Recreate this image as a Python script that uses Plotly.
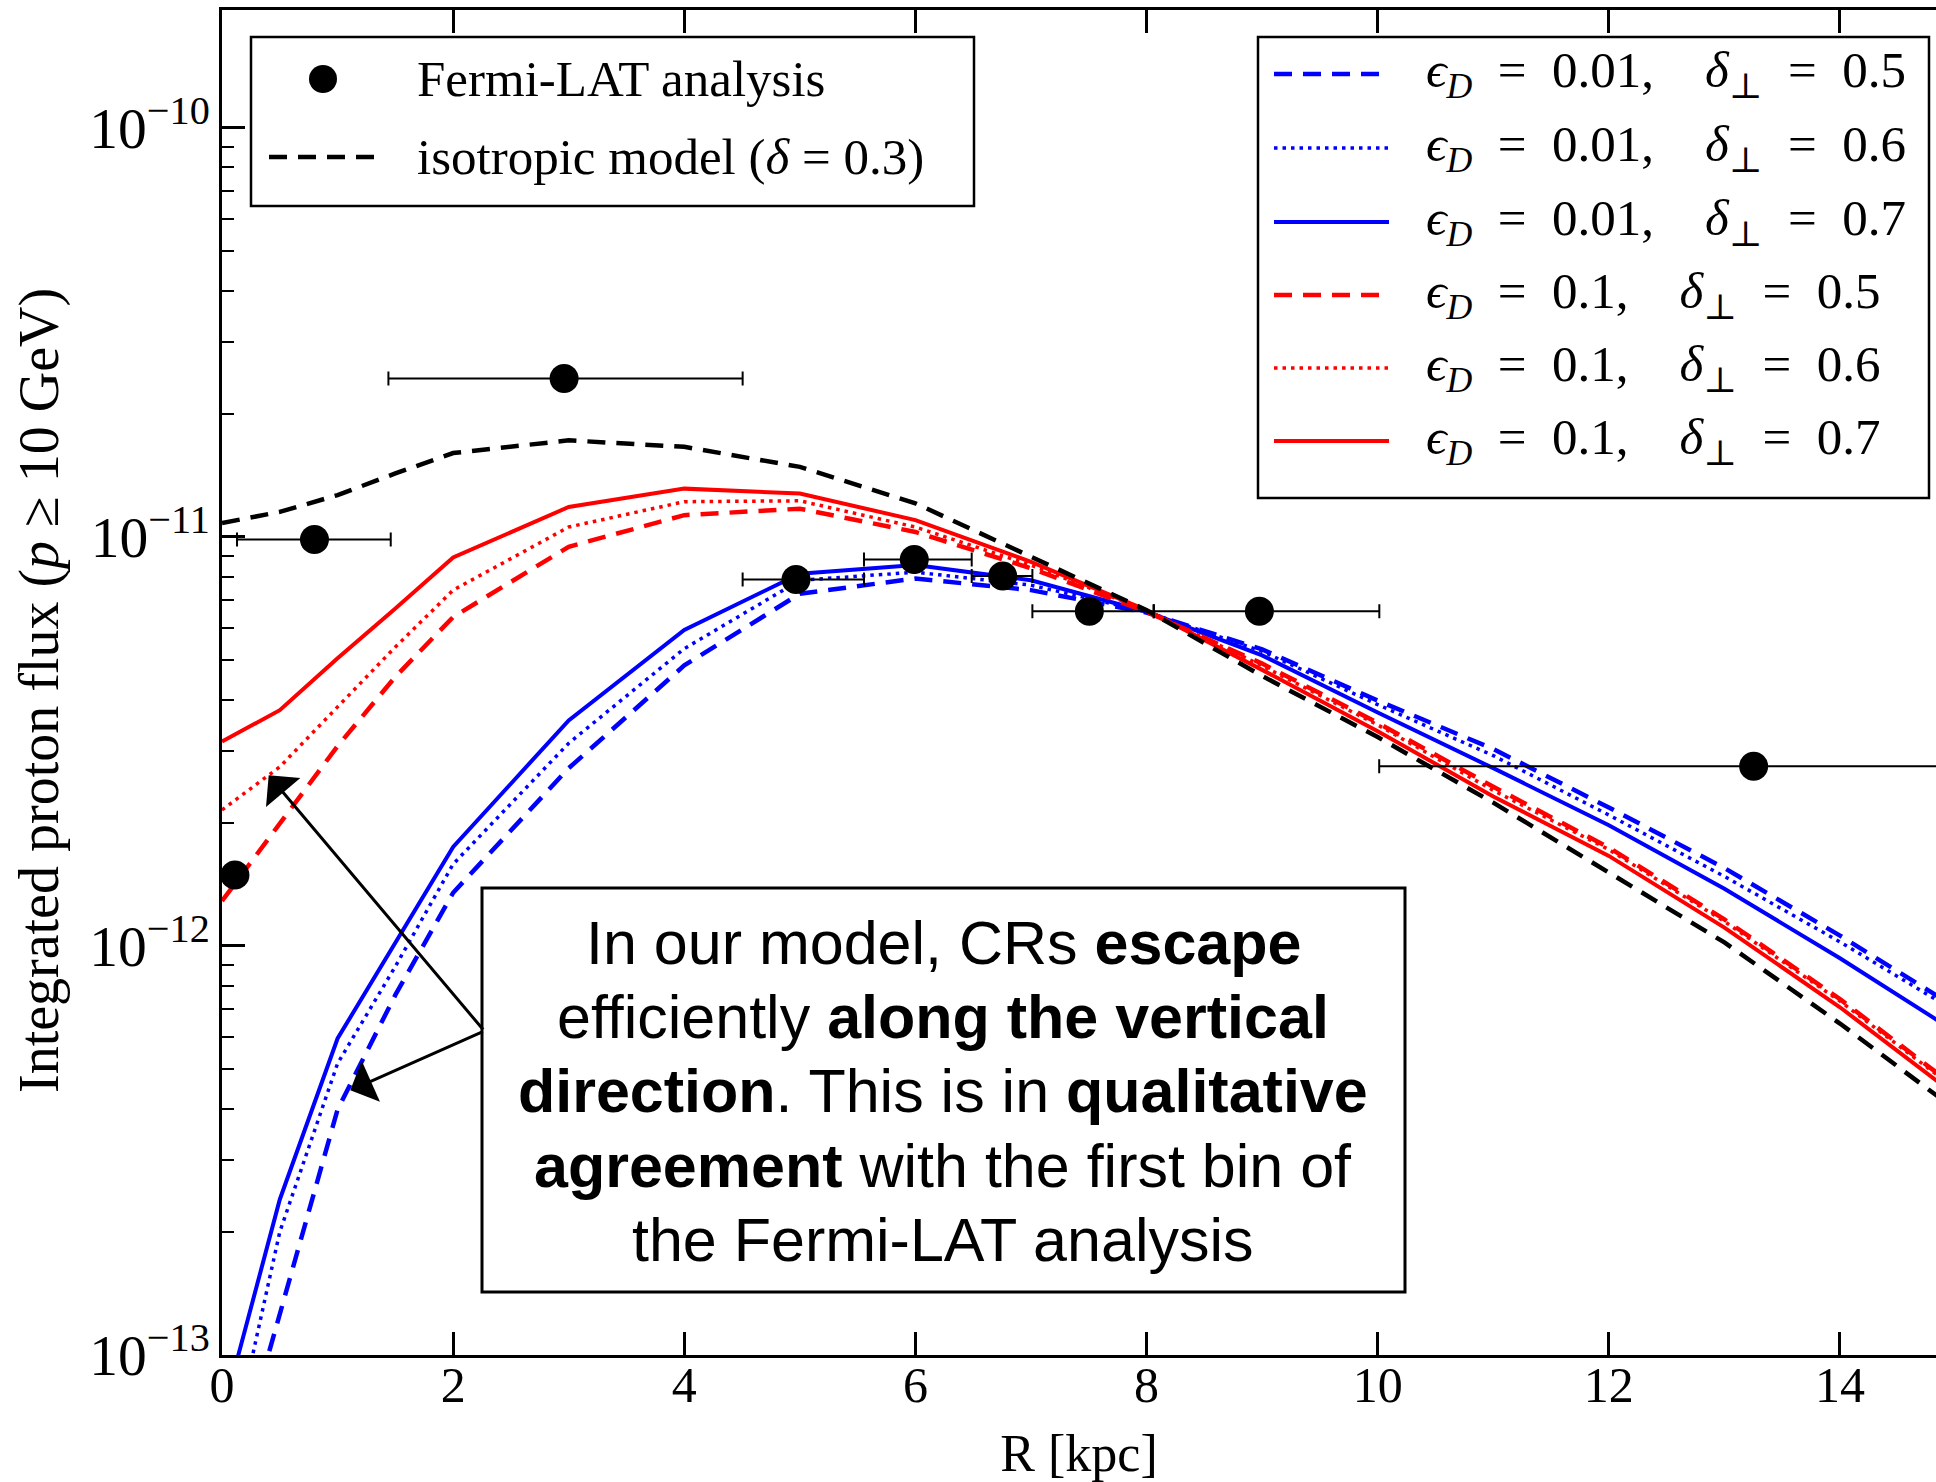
import plotly.graph_objects as go

# ---------------- data ----------------
R_grid = [0, 0.5, 1, 1.5, 2, 3, 4, 5, 6, 7, 8, 9, 10, 11, 12, 13, 14, 15]

iso_d03 = [1.081e-11, 1.151e-11, 1.265e-11, 1.429e-11, 1.603e-11, 1.722e-11, 1.660e-11, 1.483e-11,
           1.208e-11, 8.93e-12, 6.62e-12, 4.57e-12, 3.24e-12, 2.24e-12, 1.51e-12, 1.02e-12,
           6.46e-13, 3.98e-13]

e001_d05 = [3.98e-14, 1.265e-13, 3.98e-13, 7.59e-13, 1.349e-12, 2.72e-12, 4.85e-12, 7.26e-12,
            7.91e-12, 7.41e-12, 6.53e-12, 5.31e-12, 3.98e-12, 3.03e-12, 2.18e-12, 1.55e-12,
            1.06e-12, 7.08e-13]
e001_d06 = [4.57e-14, 2.00e-13, 5.16e-13, 8.91e-13, 1.585e-12, 3.13e-12, 5.33e-12, 7.83e-12,
            8.20e-12, 7.62e-12, 6.56e-12, 5.25e-12, 3.89e-12, 2.92e-12, 2.09e-12, 1.479e-12,
            1.023e-12, 6.92e-13]
e001_d07 = [7.08e-14, 2.40e-13, 5.94e-13, 1.023e-12, 1.746e-12, 3.56e-12, 5.92e-12, 8.13e-12,
            8.53e-12, 7.83e-12, 6.56e-12, 5.13e-12, 3.72e-12, 2.72e-12, 1.972e-12, 1.380e-12,
            9.33e-13, 6.17e-13]
e01_d05 = [1.288e-12, 1.995e-12, 3.08e-12, 4.55e-12, 6.37e-12, 9.46e-12, 1.130e-11, 1.172e-11,
           1.028e-11, 8.38e-12, 6.56e-12, 4.90e-12, 3.51e-12, 2.45e-12, 1.74e-12, 1.161e-12,
           7.41e-13, 4.52e-13]
e01_d06 = [2.15e-12, 2.74e-12, 3.84e-12, 5.38e-12, 7.41e-12, 1.057e-11, 1.219e-11, 1.225e-11,
           1.057e-11, 8.53e-12, 6.61e-12, 4.84e-12, 3.47e-12, 2.40e-12, 1.72e-12, 1.148e-12,
           7.33e-13, 4.47e-13]
e01_d07 = [3.16e-12, 3.77e-12, 5.05e-12, 6.68e-12, 8.91e-12, 1.183e-11, 1.312e-11, 1.276e-11,
           1.099e-11, 8.69e-12, 6.62e-12, 4.73e-12, 3.35e-12, 2.32e-12, 1.66e-12, 1.109e-12,
           7.08e-13, 4.32e-13]

fermi_R = [0.112, 0.80, 2.96, 4.967, 5.99, 6.755, 7.505, 8.976, 13.253]
fermi_flux = [1.49e-12, 9.86e-12, 2.44e-11, 7.87e-12, 8.81e-12, 8.02e-12, 6.58e-12, 6.58e-12, 2.75e-12]
fermi_err_minus = [0.0, 0.67, 1.52, 0.462, 0.435, 0.268, 0.493, 0.916, 3.24]
fermi_err_plus = [0.0, 0.66, 1.545, 0.588, 0.497, 0.257, 0.559, 1.038, 3.24]

x_ticks = [0, 2, 4, 6, 8, 10, 12, 14]

legend_left = ["Fermi-LAT analysis", "isotropic model (<i>δ</i> = 0.3)"]
legend_right = [
    ("0.01", "0.5"), ("0.01", "0.6"), ("0.01", "0.7"),
    ("0.1", "0.5"), ("0.1", "0.6"), ("0.1", "0.7"),
]

box_lines = [
    "In our model, CRs <b>escape</b>",
    "efficiently <b>along the vertical</b>",
    "<b>direction</b>. This is in <b>qualitative</b>",
    "<b>agreement</b> with the first bin of",
    "the Fermi-LAT analysis",
]

y_title = "Integrated proton flux (<i>p</i> ≥ 10 GeV)"
x_title = "R [kpc]"

# ---------------- styles ----------------
BLUE = "#0000ff"
RED = "#ff0000"
DASH = "18px,11px"
DOT = "3.5px,5px"
SERIF = "Liberation Serif, Times New Roman, DejaVu Serif, serif"
SANS = "Liberation Sans, Arial, Helvetica, sans-serif"

model_series = [
    (e001_d05, BLUE, DASH, 4.5),
    (e001_d06, BLUE, DOT, 3.5),
    (e001_d07, BLUE, "solid", 4.0),
    (e01_d05, RED, DASH, 4.5),
    (e01_d06, RED, DOT, 3.5),
    (e01_d07, RED, "solid", 4.0),
]

W, H = 1936, 1482
ML, MR, MT, MB = 222, 0, 10, 127
PW, PH = W - ML - MR, H - MT - MB


def px(x):
    return (x - ML) / PW


def py(y):
    return 1 - (y - MT) / PH


fig = go.Figure()

for ys, col, dash, w in model_series:
    fig.add_trace(go.Scatter(x=R_grid, y=ys, mode="lines",
                             line=dict(color=col, dash=dash, width=w),
                             showlegend=False, hoverinfo="skip"))

fig.add_trace(go.Scatter(x=R_grid, y=iso_d03, mode="lines",
                         line=dict(color="black", dash=DASH, width=4.5),
                         showlegend=False, hoverinfo="skip"))

fig.add_trace(go.Scatter(
    x=fermi_R, y=fermi_flux, mode="markers",
    marker=dict(color="black", size=29, symbol="circle"),
    error_x=dict(type="data", symmetric=False, array=fermi_err_plus,
                 arrayminus=fermi_err_minus, color="black", thickness=2, width=7),
    showlegend=False, hoverinfo="skip"))

shapes = []
annotations = []

# ---- left legend ----
shapes.append(dict(type="rect", xref="paper", yref="paper",
                   x0=px(251), x1=px(974), y0=py(206), y1=py(37),
                   line=dict(color="black", width=2.5), fillcolor="white", layer="above"))
shapes.append(dict(type="circle", xref="paper", yref="paper",
                   xsizemode="pixel", ysizemode="pixel",
                   xanchor=px(323), yanchor=py(79), x0=-14, x1=14, y0=-14, y1=14,
                   fillcolor="black", line=dict(color="black", width=0), layer="above"))
shapes.append(dict(type="line", xref="paper", yref="paper",
                   x0=px(269), x1=px(377), y0=py(157), y1=py(157),
                   line=dict(color="black", width=4.5, dash=DASH), layer="above"))
for txt, yy in zip(legend_left, [79, 157]):
    annotations.append(dict(xref="paper", yref="paper", x=px(415), y=py(yy),
                            text=txt, showarrow=False, xanchor="left", yanchor="middle",
                            font=dict(family=SERIF, size=51, color="black")))

# ---- right legend ----
shapes.append(dict(type="rect", xref="paper", yref="paper",
                   x0=px(1258), x1=px(1929), y0=py(498), y1=py(37),
                   line=dict(color="black", width=2.5), fillcolor="white", layer="above"))
leg_y = [74, 148, 222, 295, 368, 441]
for (eps, dlt), (_, col, dash, w), yy in zip(legend_right, model_series, leg_y):
    shapes.append(dict(type="line", xref="paper", yref="paper",
                       x0=px(1274), x1=px(1389), y0=py(yy), y1=py(yy),
                       line=dict(color=col, width=w, dash=dash), layer="above"))
    txt = ("<i>ϵ</i><sub><i>D</i></sub>\u2002=\u2002" + eps + ",\u2003"
           "<i>δ</i><sub>⊥</sub>\u2002=\u2002" + dlt)
    annotations.append(dict(xref="paper", yref="paper", x=px(1424), y=py(yy),
                            text=txt, showarrow=False, xanchor="left", yanchor="middle",
                            font=dict(family=SERIF, size=51, color="black")))

# ---- text box ----
shapes.append(dict(type="rect", xref="paper", yref="paper",
                   x0=px(482), x1=px(1405), y0=py(1292), y1=py(888),
                   line=dict(color="black", width=3), fillcolor="white", layer="above"))
for line_txt, yy in zip(box_lines, [943, 1017, 1091, 1166, 1240]):
    annotations.append(dict(xref="paper", yref="paper", x=px(943), y=py(yy),
                            text=line_txt, showarrow=False, xanchor="center",
                            yanchor="middle",
                            font=dict(family=SANS, size=61, color="black")))

# ---- arrows (data coordinates, log10 for y) ----
for hx, hy in [(0.404, -11.583), (1.11, -12.353)]:
    annotations.append(dict(xref="x", yref="y", x=hx, y=hy,
                            axref="x", ayref="y", ax=2.27, ay=-12.208,
                            text="", showarrow=True, arrowhead=1, arrowsize=2.5,
                            arrowwidth=3, arrowcolor="black"))

# ---- y-axis title ----
annotations.append(dict(xref="paper", yref="paper", x=px(39), y=py(691),
                        text=y_title, showarrow=False, textangle=-90,
                        xanchor="center", yanchor="middle",
                        font=dict(family=SERIF, size=56, color="black")))

fig.update_layout(
    width=W, height=H,
    margin=dict(l=ML, r=MR, t=MT, b=MB, pad=0),
    paper_bgcolor="white", plot_bgcolor="white",
    shapes=shapes, annotations=annotations,
    showlegend=False,
    font=dict(family=SERIF, color="black"),
)

fig.update_xaxes(
    range=[0, (W - ML) / 115.57], tickvals=x_ticks, ticks="inside", ticklen=23,
    tickwidth=2.5, tickcolor="black", showline=True, linewidth=3, linecolor="black",
    mirror="ticks", showgrid=False, zeroline=False, ticklabelstandoff=-16,
    tickfont=dict(family=SERIF, size=50, color="black"),
    title=dict(text=x_title, font=dict(family=SERIF, size=52, color="black"), standoff=24),
)

fig.update_yaxes(
    type="log", range=[-13, -9.712], dtick=1, exponentformat="power",
    ticks="inside", ticklen=23, tickwidth=2.5, tickcolor="black",
    showline=True, linewidth=3, linecolor="black", mirror=False,
    showgrid=False, zeroline=False,
    minor=dict(ticks="inside", ticklen=12, tickwidth=2, tickcolor="black",
               dtick="D1", showgrid=False),
    tickfont=dict(family=SERIF, size=46, color="black"),
)

fig.write_html("out.html")
